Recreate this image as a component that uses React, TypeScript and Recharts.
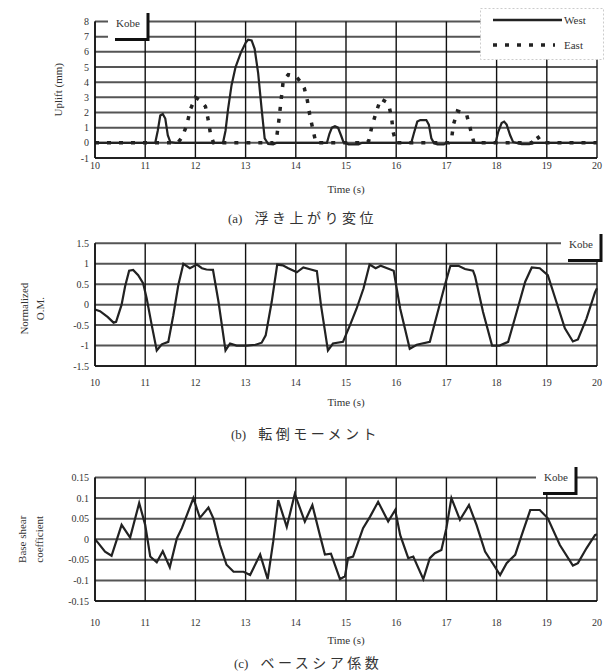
import React from 'react'
import { LineChart, Line, XAxis, YAxis, CartesianGrid, Legend, Label } from 'recharts'

// time axis shared by all three panels
const timeTicks = [10, 11, 12, 13, 14, 15, 16, 17, 18, 19, 20]
const upliftTicks = [-1, 0, 1, 2, 3, 4, 5, 6, 7, 8]
const omTicks = [-1.5, -1, -0.5, 0, 0.5, 1, 1.5]
const shearTicks = [-0.15, -0.1, -0.05, 0, 0.05, 0.1, 0.15]

// (a) uplift displacement, mm
const westUplift = [
  { t: 10, v: 0 }, { t: 11.2, v: 0 }, { t: 11.25, v: 0.8 }, { t: 11.3, v: 1.8 }, { t: 11.35, v: 1.9 },
  { t: 11.4, v: 1.6 }, { t: 11.45, v: 0.5 }, { t: 11.5, v: 0.05 }, { t: 11.6, v: 0 }, { t: 12.55, v: 0 },
  { t: 12.6, v: 0.8 }, { t: 12.65, v: 2.2 }, { t: 12.72, v: 3.8 }, { t: 12.8, v: 5.0 }, { t: 12.9, v: 5.9 },
  { t: 13.0, v: 6.6 }, { t: 13.05, v: 6.8 }, { t: 13.12, v: 6.75 }, { t: 13.18, v: 6.2 }, { t: 13.25, v: 4.6 },
  { t: 13.32, v: 2.2 }, { t: 13.38, v: 0.3 }, { t: 13.45, v: -0.08 }, { t: 13.55, v: -0.1 }, { t: 13.62, v: 0 },
  { t: 14.62, v: 0 }, { t: 14.67, v: 0.6 }, { t: 14.72, v: 1.0 }, { t: 14.78, v: 1.1 }, { t: 14.84, v: 1.0 },
  { t: 14.9, v: 0.5 }, { t: 14.95, v: 0.05 }, { t: 15.05, v: -0.1 }, { t: 15.25, v: -0.1 }, { t: 15.32, v: 0 },
  { t: 16.3, v: 0 }, { t: 16.35, v: 0.6 }, { t: 16.42, v: 1.4 }, { t: 16.48, v: 1.5 }, { t: 16.6, v: 1.5 },
  { t: 16.65, v: 1.2 }, { t: 16.7, v: 0.3 }, { t: 16.75, v: 0 }, { t: 16.82, v: -0.1 }, { t: 16.95, v: -0.1 },
  { t: 17.0, v: 0 }, { t: 17.98, v: 0 }, { t: 18.03, v: 0.7 }, { t: 18.1, v: 1.3 }, { t: 18.15, v: 1.4 },
  { t: 18.2, v: 1.2 }, { t: 18.27, v: 0.5 }, { t: 18.33, v: 0.05 }, { t: 18.5, v: -0.08 }, { t: 18.65, v: -0.08 },
  { t: 18.75, v: 0 }, { t: 20, v: 0 },
]

const eastUplift = [
  { t: 10, v: 0 }, { t: 11.65, v: 0 }, { t: 11.74, v: 0.4 }, { t: 11.83, v: 1.2 }, { t: 11.9, v: 2.2 },
  { t: 12.0, v: 3.0 }, { t: 12.1, v: 2.8 }, { t: 12.2, v: 2.4 }, { t: 12.25, v: 1.6 }, { t: 12.3, v: 0.6 },
  { t: 12.36, v: 0 }, { t: 13.55, v: 0 }, { t: 13.62, v: 0.4 }, { t: 13.66, v: 1.4 }, { t: 13.69, v: 2.3 },
  { t: 13.72, v: 3.2 }, { t: 13.75, v: 4.1 }, { t: 13.85, v: 4.5 }, { t: 14.0, v: 4.4 }, { t: 14.1, v: 4.0 },
  { t: 14.17, v: 3.6 }, { t: 14.23, v: 2.8 }, { t: 14.28, v: 1.8 }, { t: 14.34, v: 0.9 }, { t: 14.4, v: 0 },
  { t: 15.4, v: 0 }, { t: 15.45, v: 0.1 }, { t: 15.51, v: 1.0 }, { t: 15.59, v: 1.9 }, { t: 15.69, v: 2.9 },
  { t: 15.8, v: 2.7 }, { t: 15.86, v: 2.4 }, { t: 15.91, v: 1.6 }, { t: 15.94, v: 0.7 }, { t: 16.0, v: 0 },
  { t: 17.05, v: 0 }, { t: 17.1, v: 0.2 }, { t: 17.14, v: 1.2 }, { t: 17.22, v: 2.1 }, { t: 17.32, v: 2.0 },
  { t: 17.4, v: 1.9 }, { t: 17.47, v: 1.0 }, { t: 17.55, v: 0 }, { t: 18.7, v: 0 }, { t: 18.8, v: 0.5 },
  { t: 18.9, v: 0 }, { t: 20, v: 0 },
]

// (b) normalized overturning moment
const overturning = [
  { t: 10, v: -0.12 }, { t: 10.1, v: -0.16 }, { t: 10.25, v: -0.3 }, { t: 10.37, v: -0.44 }, { t: 10.42, v: -0.42 },
  { t: 10.53, v: 0 }, { t: 10.6, v: 0.45 }, { t: 10.68, v: 0.83 }, { t: 10.76, v: 0.85 }, { t: 10.86, v: 0.72 },
  { t: 10.96, v: 0.52 }, { t: 11.03, v: 0.15 }, { t: 11.13, v: -0.5 }, { t: 11.23, v: -1.12 }, { t: 11.33, v: -0.97 },
  { t: 11.46, v: -0.91 }, { t: 11.56, v: -0.26 }, { t: 11.66, v: 0.48 }, { t: 11.76, v: 1.0 }, { t: 11.89, v: 0.89 },
  { t: 12.03, v: 0.98 }, { t: 12.13, v: 0.89 }, { t: 12.22, v: 0.86 }, { t: 12.35, v: 0.85 }, { t: 12.46, v: 0.07 },
  { t: 12.6, v: -1.12 }, { t: 12.69, v: -0.95 }, { t: 12.82, v: -1.0 }, { t: 13.02, v: -1.0 }, { t: 13.2, v: -0.98 },
  { t: 13.32, v: -0.93 }, { t: 13.4, v: -0.75 }, { t: 13.52, v: 0.07 }, { t: 13.63, v: 0.98 }, { t: 13.74, v: 0.96 },
  { t: 13.85, v: 0.89 }, { t: 14.02, v: 0.79 }, { t: 14.15, v: 0.91 }, { t: 14.3, v: 0.86 }, { t: 14.42, v: 0.82 },
  { t: 14.5, v: 0 }, { t: 14.64, v: -1.12 }, { t: 14.74, v: -0.95 }, { t: 14.94, v: -0.91 }, { t: 15.08, v: -0.5 },
  { t: 15.21, v: -0.1 }, { t: 15.35, v: 0.4 }, { t: 15.47, v: 0.98 }, { t: 15.59, v: 0.89 }, { t: 15.69, v: 0.95 },
  { t: 15.82, v: 0.89 }, { t: 15.95, v: 0.83 }, { t: 16.08, v: -0.1 }, { t: 16.27, v: -1.08 }, { t: 16.41, v: -0.98 },
  { t: 16.67, v: -0.91 }, { t: 16.81, v: -0.26 }, { t: 16.97, v: 0.48 }, { t: 17.08, v: 0.95 }, { t: 17.24, v: 0.95 },
  { t: 17.37, v: 0.87 }, { t: 17.53, v: 0.83 }, { t: 17.57, v: 0.7 }, { t: 17.73, v: -0.18 }, { t: 17.91, v: -1.0 },
  { t: 18.06, v: -1.0 }, { t: 18.23, v: -0.91 }, { t: 18.4, v: -0.18 }, { t: 18.57, v: 0.56 }, { t: 18.7, v: 0.91 },
  { t: 18.86, v: 0.89 }, { t: 19.02, v: 0.72 }, { t: 19.19, v: 0.07 }, { t: 19.36, v: -0.58 }, { t: 19.52, v: -0.9 },
  { t: 19.62, v: -0.85 }, { t: 19.79, v: -0.34 }, { t: 19.96, v: 0.3 }, { t: 20, v: 0.4 },
]

// (c) base shear coefficient
const baseShear = [
  { t: 10, v: 0 }, { t: 10.07, v: -0.01 }, { t: 10.2, v: -0.03 }, { t: 10.33, v: -0.04 }, { t: 10.53, v: 0.035 },
  { t: 10.7, v: 0.004 }, { t: 10.88, v: 0.088 }, { t: 11.0, v: 0.035 }, { t: 11.1, v: -0.042 }, { t: 11.23, v: -0.056 },
  { t: 11.35, v: -0.029 }, { t: 11.49, v: -0.068 }, { t: 11.63, v: 0.002 }, { t: 11.73, v: 0.027 }, { t: 11.96, v: 0.1 },
  { t: 12.09, v: 0.052 }, { t: 12.26, v: 0.077 }, { t: 12.36, v: 0.05 }, { t: 12.49, v: -0.014 }, { t: 12.62, v: -0.062 },
  { t: 12.76, v: -0.079 }, { t: 12.96, v: -0.079 }, { t: 13.09, v: -0.087 }, { t: 13.29, v: -0.037 }, { t: 13.44, v: -0.097 },
  { t: 13.55, v: -0.006 }, { t: 13.65, v: 0.095 }, { t: 13.82, v: 0.03 }, { t: 13.98, v: 0.11 }, { t: 14.18, v: 0.043 },
  { t: 14.33, v: 0.083 }, { t: 14.48, v: 0.01 }, { t: 14.58, v: -0.037 }, { t: 14.7, v: -0.035 }, { t: 14.88, v: -0.097 },
  { t: 14.98, v: -0.09 }, { t: 15.04, v: -0.046 }, { t: 15.14, v: -0.042 }, { t: 15.34, v: 0.027 }, { t: 15.48, v: 0.055 },
  { t: 15.64, v: 0.091 }, { t: 15.84, v: 0.043 }, { t: 15.98, v: 0.071 }, { t: 16.08, v: 0.01 }, { t: 16.24, v: -0.046 },
  { t: 16.34, v: -0.042 }, { t: 16.54, v: -0.097 }, { t: 16.67, v: -0.046 }, { t: 16.77, v: -0.034 }, { t: 16.9, v: -0.026 },
  { t: 17.0, v: 0.027 }, { t: 17.1, v: 0.1 }, { t: 17.27, v: 0.047 }, { t: 17.45, v: 0.083 }, { t: 17.6, v: 0.035 },
  { t: 17.77, v: -0.03 }, { t: 17.94, v: -0.062 }, { t: 18.07, v: -0.087 }, { t: 18.2, v: -0.058 }, { t: 18.37, v: -0.038 },
  { t: 18.5, v: 0.01 }, { t: 18.67, v: 0.071 }, { t: 18.86, v: 0.071 }, { t: 19.02, v: 0.051 }, { t: 19.26, v: -0.014 },
  { t: 19.52, v: -0.064 }, { t: 19.62, v: -0.058 }, { t: 19.79, v: -0.022 }, { t: 19.96, v: 0.01 }, { t: 20, v: 0.012 },
]

const SERIF = "'Liberation Serif', 'DejaVu Serif', serif"
const CJK = "'Noto Sans CJK JP', sans-serif"
const INK = '#222'
const W = 609

const tickStyle = { fontSize: 10, fontFamily: SERIF, fill: '#333' }

const timeTitle = (dy: number) => (props: any) => {
  const { x, y, width } = props.viewBox
  return (
    <text x={x + width / 2} y={y + dy} textAnchor="middle" dominantBaseline="central"
      fontSize={11} fontFamily={SERIF} fill="#333">
      Time (s)
    </text>
  )
}

const yTitle = (lines: string[], xs: number[], shift = 0) => (props: any) => {
  const { y, height } = props.viewBox
  const cy = y + height / 2 + shift
  return (
    <g>
      {lines.map((s, i) => (
        <text key={s} x={xs[i]} y={cy} transform={`rotate(-90 ${xs[i]} ${cy})`}
          textAnchor="middle" dominantBaseline="central" fontSize={11} fontFamily={SERIF} fill="#333">
          {s}
        </text>
      ))}
    </g>
  )
}

function Grid() {
  return (
    <>
      <CartesianGrid vertical={false} stroke="#555" strokeWidth={2} />
      <CartesianGrid horizontal={false} stroke="#111" strokeWidth={1.4} />
    </>
  )
}

function KobeTag({ left, top }: { left: number; top: number }) {
  return (
    <svg width={44} height={31} style={{ position: 'absolute', left, top }}>
      <rect x={0} y={0} width={39} height={26} fill="#fff" />
      <text x={20} y={11} textAnchor="middle" dominantBaseline="central"
        fontSize={11} fontFamily={SERIF} fill="#333">Kobe</text>
      <polyline points="7,27.5 40,27.5 40,1" fill="none" stroke="#111" strokeWidth={3} />
    </svg>
  )
}

function UpliftLegend() {
  return (
    <svg width={124} height={52}>
      <rect x={0.5} y={0.5} width={123} height={51} fill="#fff" stroke="#ccc" strokeDasharray="2 2" />
      <line x1={13} y1={12} x2={82} y2={12} stroke={INK} strokeWidth={2.5} />
      <text x={84} y={12} dominantBaseline="central" fontSize={11} fontFamily={SERIF} fill="#333">West</text>
      <line x1={13} y1={37} x2={75} y2={37} stroke={INK} strokeWidth={3.5} strokeDasharray="4 8" />
      <text x={84} y={37} dominantBaseline="central" fontSize={11} fontFamily={SERIF} fill="#333">East</text>
    </svg>
  )
}

function Caption({ left, top, tag, text }: { left: number; top: number; tag: string; text: string }) {
  return (
    <div style={{ position: 'absolute', left, top, fontSize: 14, lineHeight: '16px', color: '#333', whiteSpace: 'nowrap' }}>
      <span style={{ fontFamily: SERIF, fontSize: 13 }}>{tag}</span>
      <span style={{ fontFamily: CJK, letterSpacing: 3.5, marginLeft: 12 }}>{text}</span>
    </div>
  )
}

export default function App() {
  return (
    <div style={{ position: 'absolute', left: 0, top: 0, width: W, height: 672, background: '#fff', overflow: 'hidden' }}>
      {/* (a) uplift */}
      <div style={{ position: 'absolute', left: 0, top: 0 }}>
        <LineChart width={W} height={200} margin={{ top: 21.5, right: 12, bottom: 0, left: 65 }}>
          <Grid />
          <XAxis type="number" dataKey="t" domain={[10, 20]} ticks={timeTicks} height={42}
            tick={tickStyle} tickLine={false} tickSize={0} tickMargin={3.5}
            axisLine={{ stroke: '#111', strokeWidth: 1.5 }} allowDuplicatedCategory={false}>
            <Label content={timeTitle(31)} />
          </XAxis>
          <YAxis type="number" domain={[-1, 8]} ticks={upliftTicks} width={30} interval={0}
            tick={tickStyle} tickLine={false} tickSize={0} tickMargin={6}
            axisLine={{ stroke: '#111', strokeWidth: 1.5 }}>
            <Label content={yTitle(['Uplift (mm)'], [58])} />
          </YAxis>
          <Legend layout="vertical" align="center" verticalAlign="middle"
            wrapperStyle={{ left: 480, top: 8, width: 124, height: 52 }}
            content={() => <UpliftLegend />} />
          <Line data={eastUplift} dataKey="v" name="East" type="linear" stroke={INK} strokeWidth={3.5}
            strokeDasharray="4 8" dot={false} isAnimationActive={false} />
          <Line data={westUplift} dataKey="v" name="West" type="linear" stroke={INK} strokeWidth={2.2}
            dot={false} isAnimationActive={false} />
        </LineChart>
      </div>
      <KobeTag left={108} top={12} />
      <Caption left={228} top={209} tag="(a)" text="浮き上がり変位" />

      {/* (b) overturning moment */}
      <div style={{ position: 'absolute', left: 0, top: 225 }}>
        <LineChart width={W} height={195} margin={{ top: 18.3, right: 12, bottom: 0, left: 65 }}>
          <Grid />
          <XAxis type="number" dataKey="t" domain={[10, 20]} ticks={timeTicks} height={54}
            tick={tickStyle} tickLine={false} tickSize={0} tickMargin={12.5}
            axisLine={{ stroke: '#111', strokeWidth: 1.5 }}>
            <Label content={timeTitle(36)} />
          </XAxis>
          <YAxis type="number" domain={[-1.5, 1.5]} ticks={omTicks} width={30} interval={0}
            tick={tickStyle} tickLine={false} tickSize={0} tickMargin={6}
            axisLine={{ stroke: '#111', strokeWidth: 1.5 }}>
            <Label content={yTitle(['Normalized', 'O.M.'], [24, 40], 4)} />
          </YAxis>
          <Line data={overturning} dataKey="v" name="Kobe" type="linear" stroke={INK} strokeWidth={2.2}
            dot={false} isAnimationActive={false} />
        </LineChart>
      </div>
      <KobeTag left={561} top={233} />
      <Caption left={231} top={425} tag="(b)" text="転倒モーメント" />

      {/* (c) base shear */}
      <div style={{ position: 'absolute', left: 0, top: 460 }}>
        <LineChart width={W} height={200} margin={{ top: 17.5, right: 12, bottom: 0, left: 65 }}>
          <Grid />
          <XAxis type="number" dataKey="t" domain={[10, 20]} ticks={timeTicks} height={59}
            tick={tickStyle} tickLine={false} tickSize={0} tickMargin={17.5}
            axisLine={{ stroke: '#111', strokeWidth: 1.5 }}>
            <Label content={timeTitle(39)} />
          </XAxis>
          <YAxis type="number" domain={[-0.15, 0.15]} ticks={shearTicks} width={30} interval={0}
            tick={tickStyle} tickLine={false} tickSize={0} tickMargin={6}
            axisLine={{ stroke: '#111', strokeWidth: 1.5 }}>
            <Label content={yTitle(['Base shear', 'coefficient'], [22, 39])} />
          </YAxis>
          <Line data={baseShear} dataKey="v" name="Kobe" type="linear" stroke={INK} strokeWidth={2.2}
            dot={false} isAnimationActive={false} />
        </LineChart>
      </div>
      <KobeTag left={536} top={466} />
      <Caption left={234} top={654} tag="(c)" text="ベースシア係数" />
    </div>
  )
}
